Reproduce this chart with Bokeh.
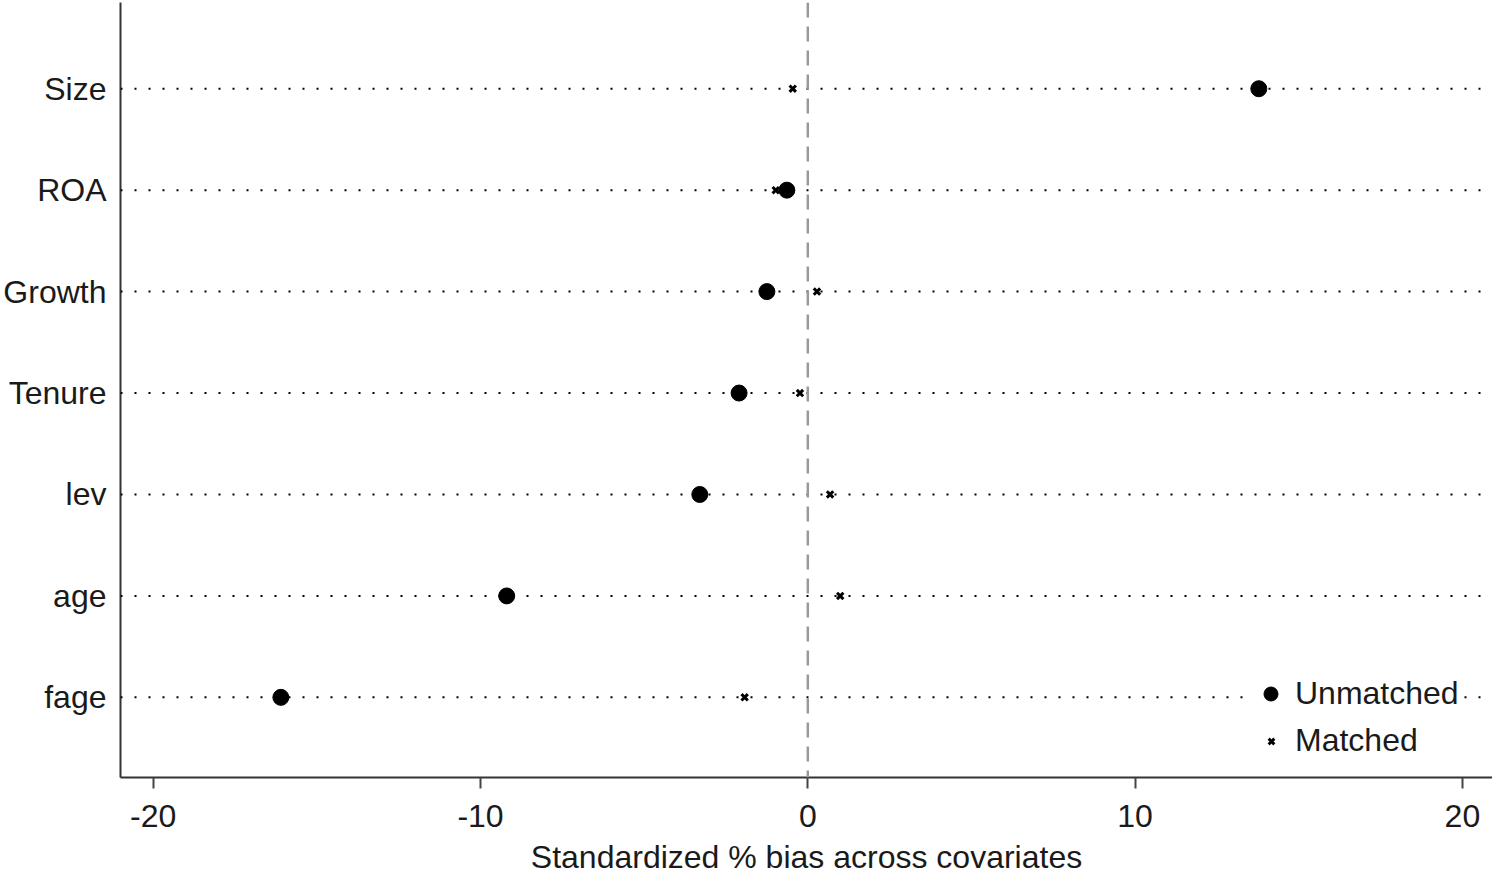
from bokeh.plotting import figure
from bokeh.models import Span, Legend, LegendItem, FixedTicker, Range1d, ColumnDataSource
from bokeh.embed import file_html
from bokeh.resources import INLINE

covariates = ["fage", "age", "lev", "Tenure", "Growth", "ROA", "Size"]
unmatched = [-16.1, -9.2, -3.3, -2.1, -1.25, -0.64, 13.78]
matched = [-1.93, 0.99, 0.68, -0.24, 0.28, -0.98, -0.46]
x_ticks = [-20, -10, 0, 10, 20]
x_tick_labels = ["-20", "-10", "0", "10", "20"]

ypos = list(range(1, len(covariates) + 1))
FONT = "Liberation Sans"

p = figure(width=1492, height=877, output_backend="svg", toolbar_location=None,
           x_range=Range1d(-21.0, 20.92), y_range=Range1d(0.21, 7.85),
           min_border_left=119, min_border_right=0, min_border_top=2, min_border_bottom=90)
p.outline_line_color = None
p.xgrid.visible = False
p.ygrid.visible = False
p.background_fill_color = "white"

# dotted guide lines
for y in ypos:
    p.add_layout(Span(location=y, dimension="width", line_color="black",
                      line_width=2, line_dash="2 12"))
# zero reference
p.add_layout(Span(location=0, dimension="height", line_color="#9a9a9a",
                  line_width=2.5, line_dash="15 9"))

src = ColumnDataSource(dict(y=ypos, u=unmatched, m=matched))
r_u = p.scatter("u", "y", source=src, marker="circle", size=16,
                fill_color="black", line_color="black")
r_m = p.scatter("m", "y", source=src, marker="x", size=9,
                line_color="black", line_width=3)

# axes
p.xaxis.ticker = FixedTicker(ticks=x_ticks)
p.xaxis.major_label_overrides = {t: l for t, l in zip(x_ticks, x_tick_labels)}
p.xaxis.minor_tick_line_color = None
p.xaxis.axis_line_color = "#333333"
p.xaxis.axis_line_width = 2
p.xaxis.major_tick_line_color = "#444444"
p.xaxis.major_tick_line_width = 2
p.xaxis.major_tick_out = 11
p.xaxis.major_tick_in = 0
p.xaxis.major_label_standoff = 16
p.xaxis.major_label_text_font = FONT
p.xaxis.major_label_text_font_size = "32px"
p.xaxis.major_label_text_color = "#1a1a1a"
p.xaxis.axis_label = "Standardized % bias across covariates"
p.xaxis.axis_label_text_font = FONT
p.xaxis.axis_label_text_font_size = "32px"
p.xaxis.axis_label_text_font_style = "normal"
p.xaxis.axis_label_text_color = "#1a1a1a"
p.xaxis.axis_label_standoff = 9

p.yaxis.ticker = FixedTicker(ticks=ypos)
p.yaxis.major_label_overrides = {y: c for y, c in zip(ypos, covariates)}
p.yaxis.minor_tick_line_color = None
p.yaxis.major_tick_line_color = None
p.yaxis.major_tick_out = 0
p.yaxis.major_tick_in = 0
p.yaxis.axis_line_color = "#333333"
p.yaxis.axis_line_width = 2
p.yaxis.major_label_standoff = 14
p.yaxis.major_label_text_font = FONT
p.yaxis.major_label_text_font_size = "32px"
p.yaxis.major_label_text_color = "#1a1a1a"

leg1 = Legend(items=[LegendItem(label="Unmatched", renderers=[r_u])],
              location=(1133, 65), glyph_width=35, glyph_height=35, label_height=35,
              label_standoff=7, padding=5, margin=0, border_line_color=None,
              background_fill_color="white", background_fill_alpha=1.0,
              label_text_font=FONT, label_text_font_size="32px", label_text_color="#1a1a1a")
leg2 = Legend(items=[LegendItem(label="Matched", renderers=[r_m])],
              location=(1141, 18), glyph_width=20, glyph_height=20, label_height=30,
              label_standoff=14, padding=5, margin=0, border_line_color=None,
              background_fill_color="white", background_fill_alpha=1.0,
              label_text_font=FONT, label_text_font_size="32px", label_text_color="#1a1a1a")
p.add_layout(leg1, "center")
p.add_layout(leg2, "center")

open("out.html", "w").write(file_html(p, INLINE))
